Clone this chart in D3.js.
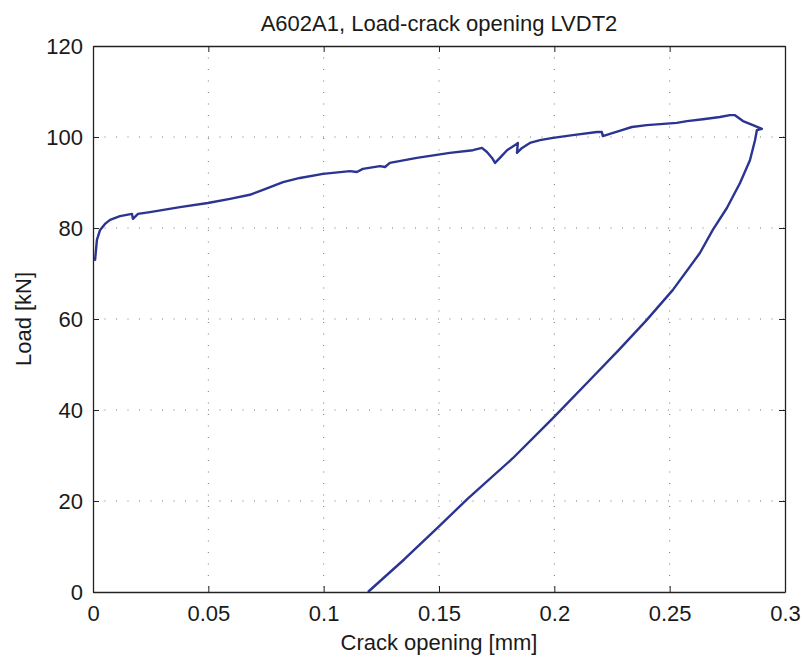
<!DOCTYPE html>
<html>
<head>
<meta charset="utf-8">
<script src="https://d3js.org/d3.v7.min.js"></script>
<style>
body { margin: 0; background: white; }
text { font-family: "Liberation Sans", Arial, sans-serif; fill: #1a1a1a; }
</style>
</head>
<body>
<script>

const title = "A602A1, Load-crack opening LVDT2";
const xLabel = "Crack opening [mm]";
const yLabel = "Load [kN]";
const xTicks = [0, 0.05, 0.1, 0.15, 0.2, 0.25, 0.3];
const yTicks = [0, 20, 40, 60, 80, 100, 120];

// loading branch, then unloading back to zero load
const opening = [
  0.0005, 0.0009, 0.0017, 0.003, 0.0052, 0.0074, 0.0117, 0.0169, 0.0173, 0.0195,
  0.0247, 0.0377, 0.0498, 0.0594, 0.068, 0.0737, 0.0824, 0.0897, 0.0997, 0.1114,
  0.1144, 0.117, 0.1244, 0.1266, 0.1287, 0.1404, 0.1547, 0.1647, 0.1686, 0.1708,
  0.173, 0.1743, 0.1764, 0.1795, 0.1838, 0.1842, 0.1838, 0.186, 0.1894, 0.1938,
  0.1994, 0.208, 0.2185, 0.2206, 0.221, 0.2241, 0.2293, 0.2336, 0.2401, 0.2531,
  0.2575, 0.2644, 0.2718, 0.2761, 0.2783, 0.2818, 0.2861, 0.29, 0.2878,
  0.287, 0.2848, 0.2805, 0.2748, 0.2687, 0.2631, 0.2514, 0.2401, 0.228, 0.2154,
  0.1994, 0.182, 0.1626, 0.15, 0.135, 0.1192
];
const load = [
  73.5, 73, 77.4, 79.5, 80.9, 81.8, 82.6, 83.1, 82, 83.1,
  83.5, 84.6, 85.5, 86.4, 87.3, 88.4, 90.1, 91, 91.9, 92.5,
  92.3, 93, 93.6, 93.4, 94.3, 95.4, 96.5, 97.1, 97.6, 96.7,
  95.4, 94.3, 95.4, 97.1, 98.5, 98.7, 96.5, 97.6, 98.7, 99.3,
  99.8, 100.4, 101.1, 101.1, 100.2, 100.7, 101.5, 102.2, 102.6, 103.1,
  103.5, 103.9, 104.4, 104.8, 104.8, 103.5, 102.6, 101.8, 101.5,
  99.3, 94.9, 89.9, 84.4, 79.6, 74.5, 66.4, 59.8, 53.2, 46.6,
  38.2, 29.4, 20.6, 14.4, 7.2, 0
];

const W = 802, H = 662;
const margin = {top: 46, right: 17, bottom: 70, left: 93};
const width = W - margin.left - margin.right;
const height = H - margin.top - margin.bottom;
const fontSize = 22;

const svg = d3.select("body").append("svg")
  .attr("width", W).attr("height", H);

const g = svg.append("g").attr("transform", `translate(${margin.left}, ${margin.top})`);

const x = d3.scaleLinear().domain([0, 0.3]).range([0, width]);
const y = d3.scaleLinear().domain([0, 120]).range([height, 0]);

// dotted grid
g.selectAll(".vgrid").data(xTicks.slice(1, -1)).enter()
  .append("line")
  .attr("x1", d => x(d)).attr("x2", d => x(d))
  .attr("y1", 0).attr("y2", height)
  .attr("stroke", "#777").attr("stroke-width", 1)
  .attr("stroke-dasharray", "1,10.5");
g.selectAll(".hgrid").data(yTicks.slice(1, -1)).enter()
  .append("line")
  .attr("x1", 0).attr("x2", width)
  .attr("y1", d => y(d)).attr("y2", d => y(d))
  .attr("stroke", "#777").attr("stroke-width", 1)
  .attr("stroke-dasharray", "1,10.5");

// curve
const pts = opening.map((o, i) => [o, load[i]]);
g.append("path")
  .datum(pts)
  .attr("fill", "none")
  .attr("stroke", "#2b3491")
  .attr("stroke-width", 2.4)
  .attr("stroke-linejoin", "round")
  .attr("d", d3.line().x(d => x(d[0])).y(d => y(d[1])));

// box and inward ticks
const fmt = d => d3.format("")(d);
const axisStyle = sel => {
  sel.select(".domain").attr("stroke", "#222").attr("stroke-width", 1.3);
  sel.selectAll(".tick line").attr("stroke", "#222");
  sel.selectAll(".tick text").attr("font-size", fontSize)
     .attr("font-family", "'Liberation Sans', Arial, sans-serif").attr("fill", "#1a1a1a");
};

g.append("g").attr("transform", `translate(0, ${height})`)
  .call(d3.axisBottom(x).tickValues(xTicks).tickFormat(fmt).tickSize(-6).tickSizeOuter(0).tickPadding(13))
  .call(axisStyle);
g.append("g")
  .call(d3.axisTop(x).tickValues(xTicks).tickFormat("").tickSize(-6).tickSizeOuter(0))
  .call(axisStyle);
g.append("g")
  .call(d3.axisLeft(y).tickValues(yTicks).tickFormat(fmt).tickSize(-6).tickSizeOuter(0).tickPadding(10))
  .call(axisStyle);
g.append("g").attr("transform", `translate(${width}, 0)`)
  .call(d3.axisRight(y).tickValues(yTicks).tickFormat("").tickSize(-6).tickSizeOuter(0))
  .call(axisStyle);

// labels
svg.append("text")
  .attr("x", margin.left + width / 2).attr("y", 31)
  .attr("text-anchor", "middle").attr("font-size", fontSize)
  .text(title);
svg.append("text")
  .attr("x", margin.left + width / 2).attr("y", 650)
  .attr("text-anchor", "middle").attr("font-size", fontSize)
  .text(xLabel);
svg.append("text")
  .attr("transform", `translate(31, ${margin.top + height / 2}) rotate(-90)`)
  .attr("text-anchor", "middle").attr("font-size", fontSize)
  .text(yLabel);

</script>
</body>
</html>
